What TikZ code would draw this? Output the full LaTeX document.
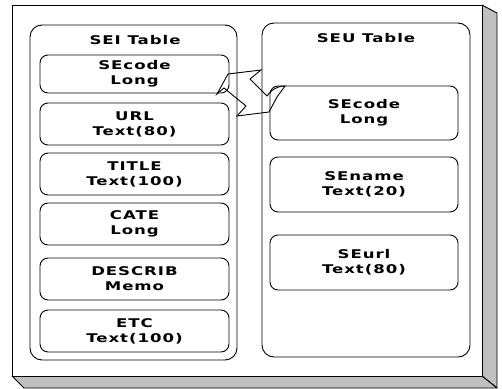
\documentclass[tikz,border=0pt]{standalone}
\usepackage{fontspec}
\newfontfamily\lbl{DejaVu Sans}[FakeStretch=1.38,LetterSpace=8]
\begin{document}
\begin{tikzpicture}[x=1pt,y=-1pt,
  ln/.style={line width=0.9pt},
  shade/.style={fill=gray!50,draw=black,line width=0.9pt,line join=round},
  panel/.style={draw,ln,rounded corners=12pt},
  field/.style={draw,ln,rounded corners=8pt,align=center,inner sep=0pt,
    font=\lbl\bfseries\fontsize{12}{15}\selectfont},
  ttl/.style={font=\lbl\bfseries\fontsize{12}{15}\selectfont,inner sep=0pt}]
\useasboundingbox (0,0) rectangle (502,388);
% 3D frame
\draw[shade] (482,5) -- (497,13) -- (497,388) -- (482,376) -- cycle;
\draw[shade] (12,376) -- (482,376) -- (497,388) -- (24,388) -- cycle;
\draw[ln,fill=white] (12,5) rectangle (482,376);
% panels
\draw[panel] (30,25) rectangle (237,360);
\draw[panel] (262,23) rectangle (470,357);
\node[ttl] (seit) at (135,40) {SEI Table};
\node[ttl] (seut) at (366,38.5) {SEU Table};
% left fields
\node[field,minimum width=189pt,minimum height=38pt] (l1) at (134.5,74) {SEcode\\Long};
\node[field,minimum width=189pt,minimum height=42pt] (l2) at (134.5,124) {URL\\Text(80)};
\node[field,minimum width=189pt,minimum height=42pt] (l3) at (134.5,174) {TITLE\\Text(100)};
\node[field,minimum width=189pt,minimum height=42pt] (l4) at (134.5,224) {CATE\\Long};
\node[field,minimum width=189pt,minimum height=42pt] (l5) at (134.5,279) {DESCRIB\\Memo};
\node[field,minimum width=189pt,minimum height=42pt] (l6) at (134.5,331) {ETC\\Text(100)};
% right fields
\node[field,minimum width=188pt,minimum height=54pt] (r1) at (364,113) {SEcode\\Long};
\node[field,minimum width=188pt,minimum height=55pt] (r2) at (364,184.5) {SEname\\Text(20)};
\node[field,minimum width=188pt,minimum height=55pt] (r3) at (364,262.5) {SEurl\\Text(80)};
% link arrow shape
\draw[ln,line join=miter]
  (228,74) -- (261,70) -- (250,79) -- (267,96)
  .. controls (271,90) and (277,86) .. (285,86)
  -- (277,97) -- (269,112) -- (237,116) -- (246,106)
  -- (224,88) -- (217,94) -- cycle;
\end{tikzpicture}
\end{document}
